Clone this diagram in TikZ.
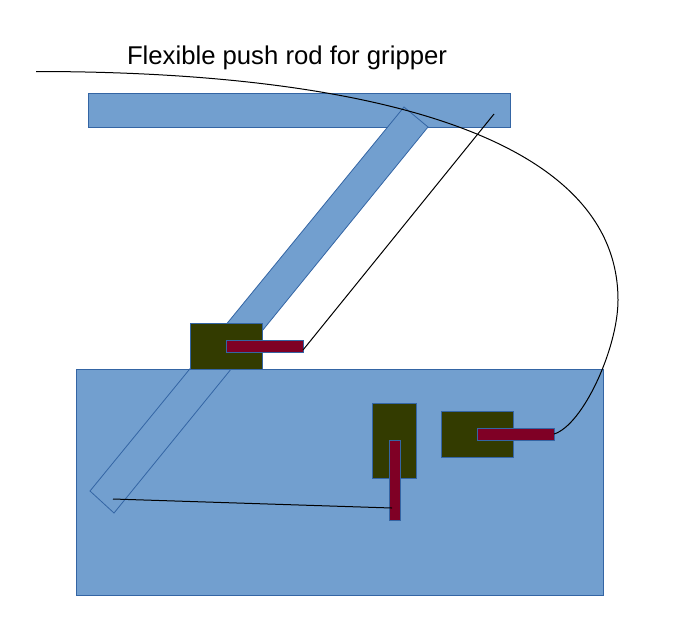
\documentclass[tikz,border=0pt]{standalone}
\usepackage{fontspec}
\setmainfont{Liberation Sans}
\usetikzlibrary{positioning}
\definecolor{FrameBlue}{HTML}{729FCF}
\definecolor{FrameEdge}{HTML}{3465A4}
\definecolor{BlockGreen}{HTML}{333B00}
\definecolor{RodRed}{HTML}{7F0025}

\begin{document}
\begin{tikzpicture}[x=1pt, y=-1pt,
  plate/.style={draw=FrameEdge, fill=FrameBlue, line width=0.8pt, inner sep=0pt, outer sep=0pt, anchor=north west},
  block/.style={plate, fill=BlockGreen, line width=1pt},
  rod/.style={plate, fill=RodRed, line width=1pt},
  link/.style={draw=black, line width=1pt}]
  \useasboundingbox (0,0) rectangle (684,633);
  \node[plate, minimum width=527pt, minimum height=226pt] (base) at (76,369) {};
  \node[plate, minimum width=422pt, minimum height=34pt] (bar) at (88,93) {};
  \coordinate (armA) at (404,107);
  \coordinate (armB) at (428,127);
  \coordinate (armC) at (114,513);
  \coordinate (armD) at (90,491);
  \draw[draw=FrameEdge, fill=FrameBlue, line width=0.8pt] (armA) -- (armB) -- (armC) -- (armD) -- cycle;
  \node[block, minimum width=72pt, minimum height=46pt] (blockA) at (190,323) {};
  \node[block, minimum width=44pt, minimum height=75pt] (blockB) at (372.5,403) {};
  \node[block, minimum width=72pt, minimum height=46pt] (blockC) at (441.5,411) {};
  \node[rod, minimum width=77pt, minimum height=12pt] (rodA) at (226,340) {};
  \node[rod, minimum width=11pt, minimum height=80pt] (rodB) at (389,440) {};
  \node[rod, minimum width=77pt, minimum height=12pt] (rodC) at (477,428) {};
  \node[font=\fontsize{25.7}{30}\selectfont] (title) at (287,57.5) {Flexible push rod for gripper};
  \coordinate (barEnd) at (494,114);
  \coordinate (armEnd) at (113,499);
  \coordinate (rodBend) at (392,508);
  \coordinate (rodStart) at (36,71.5);
  \coordinate (bulge) at (618,300);
  \draw[link] (rodA.south east) ++(0,-2) -- (barEnd);
  \draw[link] (armEnd) -- (rodBend);
  \draw[link] (rodStart) .. controls (350,71.5) and (618,130) .. (bulge)
    .. controls (618,348) and (583,425) .. (rodC.east);
\end{tikzpicture}
\end{document}
